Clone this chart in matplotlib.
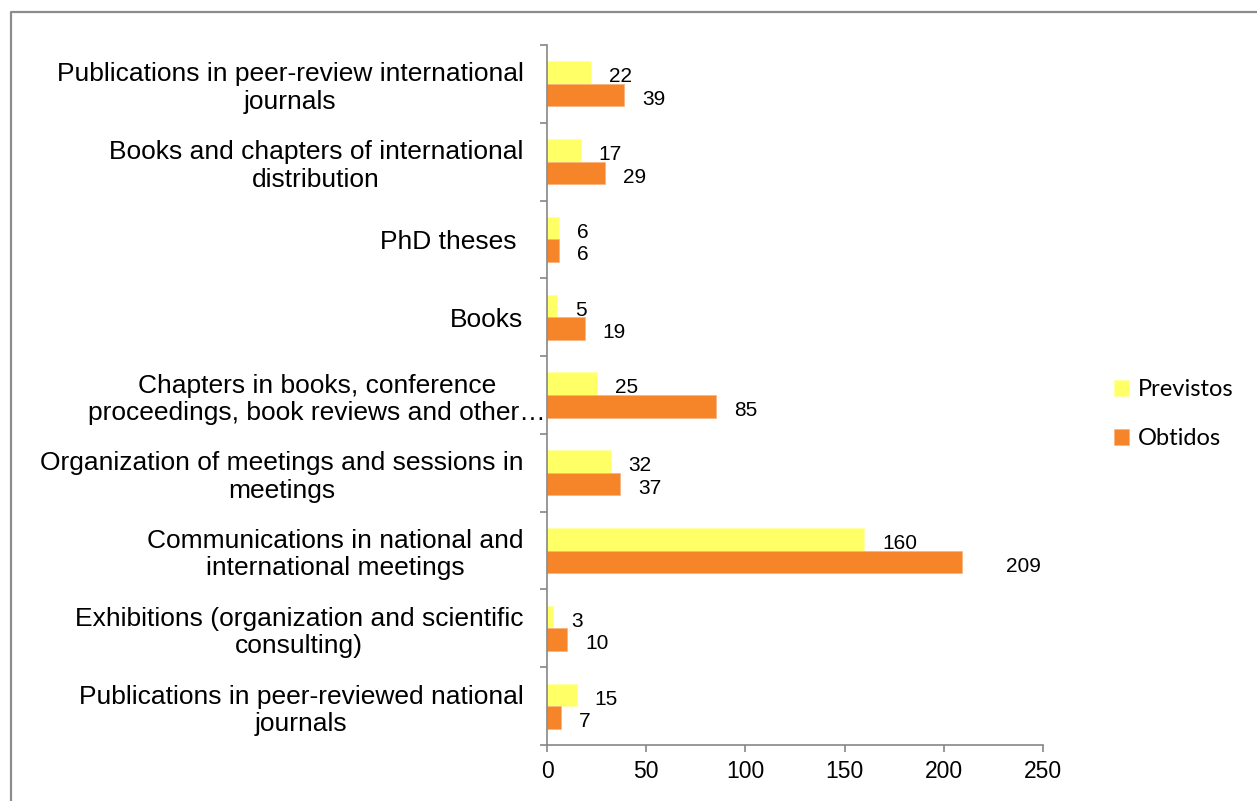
import numpy as np
import matplotlib
matplotlib.use('Agg')
import matplotlib.pyplot as plt
from matplotlib.lines import Line2D
from matplotlib.transforms import ScaledTranslation

# Dados
categorias = [
    'Publications in peer-review international\njournals',
    'Books and chapters of international\ndistribution',
    'PhD theses ',
    'Books',
    'Chapters in books, conference\nproceedings, book reviews and other\u2026',
    'Organization of meetings and sessions in\nmeetings',
    'Communications in national and\ninternational meetings',
    'Exhibitions (organization and scientific\nconsulting)',
    'Publications in peer-reviewed national\njournals',
]
previstos = [22, 17, 6, 5, 25, 32, 160, 3, 15]
obtidos = [39, 29, 6, 19, 85, 37, 209, 10, 7]
xticks = [0, 50, 100, 150, 200, 250]

cinza = '#868686'
amarelo = '#FFFF66'
laranja = '#F6852A'

plt.rcParams['font.family'] = ['Liberation Sans', 'DejaVu Sans']

fig = plt.figure(figsize=(12.57, 8.01), dpi=100)
ax = fig.add_axes([0.4352, 0.0699, 0.8298 - 0.4352, 0.9438 - 0.0699])

y = np.arange(len(categorias))
h = 0.29
b1 = ax.barh(y - h / 2, previstos, height=h, color=amarelo, edgecolor='#FFFFA0',
             linewidth=0.5, label='Previstos')
b2 = ax.barh(y + h / 2, obtidos, height=h, color=laranja, edgecolor='#F9B27C',
             linewidth=0.5, label='Obtidos')

rot_prev = ax.bar_label(b1, padding=13, fontsize=15)
rot_obt = ax.bar_label(b2, padding=13, fontsize=15)
for t in list(rot_prev) + list(rot_obt):
    t.xyann = (13, -3)
# no original o rótulo do 209 fica mais afastado da barra
rot_obt[6].xyann = (32, -3)

ax.set_xlim(0, 250)
ax.set_ylim(len(categorias) - 0.5, -0.5)
ax.set_xticks(xticks)
ax.tick_params(axis='x', labelsize=16.5, length=5, width=1.2, color=cinza, pad=6)

# marcas nos limites das categorias, rótulos no centro
ax.set_yticks(np.arange(len(categorias) + 1) - 0.5)
ax.set_yticklabels([])
ax.set_yticks(y, minor=True)
ax.set_yticklabels(categorias, minor=True, fontsize=19, multialignment='center',
                   linespacing=1.18)
ax.tick_params(axis='y', which='major', length=5, width=1.2, color=cinza)
ax.tick_params(axis='y', which='minor', length=0, pad=17)

# o rótulo truncado chega mais perto do eixo
lbl = ax.get_yticklabels(minor=True)[4]
lbl.set_transform(lbl.get_transform() + ScaledTranslation(16 / 72, 0, fig.dpi_scale_trans))

for s in ('top', 'right'):
    ax.spines[s].set_visible(False)
for s in ('left', 'bottom'):
    ax.spines[s].set_color(cinza)
    ax.spines[s].set_linewidth(1.2)

leg = fig.legend(handles=[b1, b2], loc='center left', bbox_to_anchor=(0.869, 0.483),
                 frameon=False, prop={'family': 'Lato', 'size': 17},
                 handlelength=0.65, handleheight=0.65, handletextpad=0.4, labelspacing=1.2)

# moldura cortada
fig.add_artist(Line2D([0.0085, 0.0085, 1.0], [0.0, 0.985, 0.985],
                      transform=fig.transFigure, color='#8c8c8c', linewidth=1.6))

fig.savefig('out.png', dpi=100)
